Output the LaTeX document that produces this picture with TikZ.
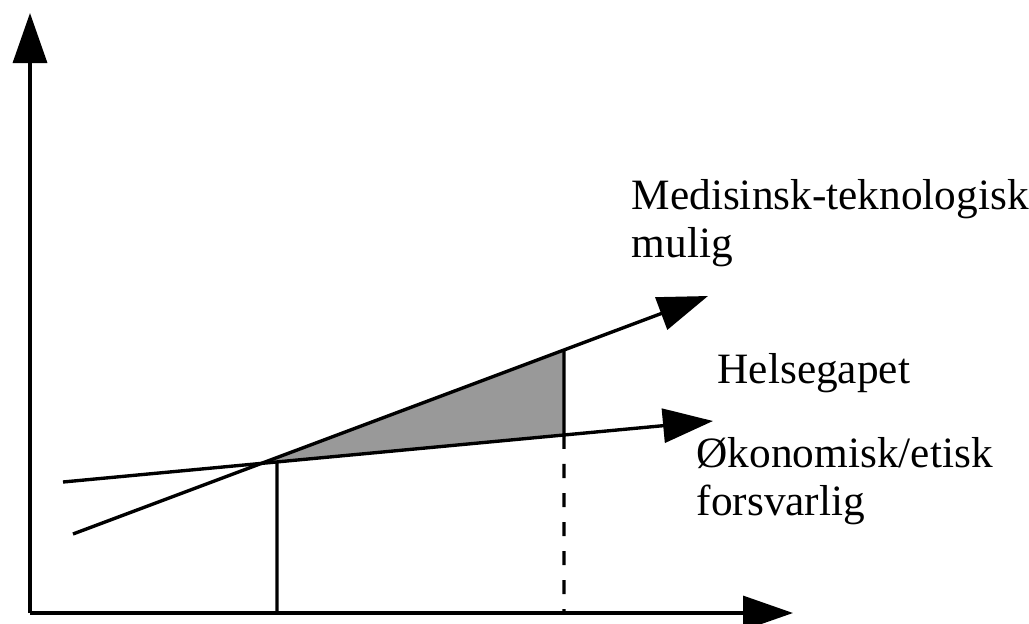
\documentclass[tikz,border=0pt]{standalone}
\usepackage{fontspec}
\setmainfont{Liberation Serif}
\usetikzlibrary{arrows.meta,intersections}

\begin{document}
\begin{tikzpicture}[x=0.025cm, y=-0.025cm, line width=2.4pt,
    bigarrow/.style={-{Triangle[length=1.25cm,width=0.85cm]}},
    curvetext/.style={anchor=base west, align=left, inner sep=0pt,
      font=\fontsize{30.8}{33.6}\selectfont}]
  \useasboundingbox (0,0) rectangle (1029,623);
  % axes
  \coordinate (origin) at (30,613);
  \draw[bigarrow] (origin) -- (30,13);
  \draw[bigarrow] (origin) -- (793,613);
  % help paths for the gap
  \path[name path=medline] (73,534) -- (708,296);
  \path[name path=okoline] (63,482) -- (713,421);
  \path[name path=gapcut] (564,0) -- (564,623);
  \path[name path=startcut] (277,0) -- (277,623);
  \path[name intersections={of=medline and okoline, by=cross}];
  \path[name intersections={of=medline and gapcut, by=gaptop}];
  \path[name intersections={of=okoline and gapcut, by=gapbot}];
  \path[name intersections={of=okoline and startcut, by=starttop}];
  \fill[black!40] (cross) -- (gaptop) -- (gapbot) -- cycle;
  % the two lines
  \draw[bigarrow] (73,534) -- (708,296);
  \draw[bigarrow] (63,482) -- (713,421);
  \draw (gaptop) -- (gapbot);
  \draw[dash pattern=on 0.35cm off 0.375cm] (gapbot) -- (564,613);
  \draw (starttop) -- (277,613);
  % texts (base = last line)
  \node[curvetext] (medtext) at (630,257) {Medisinsk-teknologisk\\mulig};
  \node[curvetext] (gaptext) at (716,383) {Helsegapet};
  \node[curvetext] (okotext) at (695,515) {Økonomisk/etisk\\forsvarlig};
\end{tikzpicture}
\end{document}
